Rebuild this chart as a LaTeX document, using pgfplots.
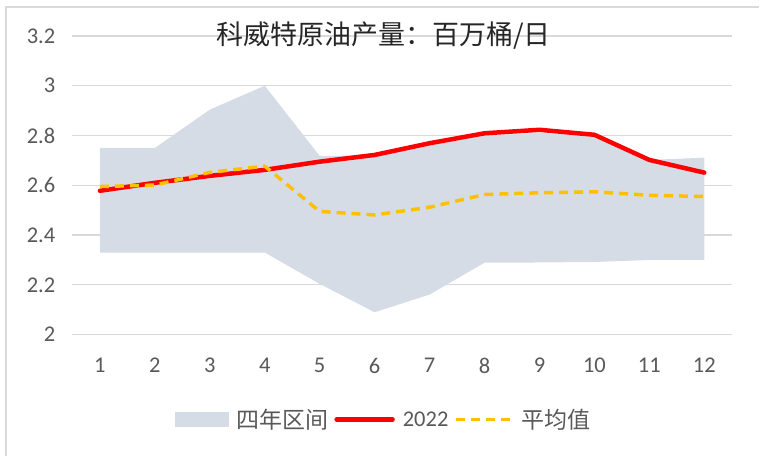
\documentclass[border=0pt]{standalone}
\usepackage{fontspec}
\setmainfont{Carlito}
\newfontfamily\cjk{Noto Sans CJK SC}
\usepackage{pgfplots}
\pgfplotsset{compat=1.18}
\usepgfplotslibrary{fillbetween}
\definecolor{band}{HTML}{D6DCE5}
\definecolor{gridc}{HTML}{D9D9D9}
\definecolor{ticklab}{HTML}{595959}
\definecolor{redl}{HTML}{FF0000}
\definecolor{yell}{HTML}{FFC000}
\pgfplotsset{
  lineleg/.style={legend image code/.code={\draw[##1] (0pt,0pt) -- (56pt,0pt);}},
  boxleg/.style={legend image code/.code={\fill[band] (0pt,-7.5pt) rectangle (54pt,7.5pt);}},
}
\begin{document}
\begin{tikzpicture}[x=1pt,y=1pt]
\path (0,0) rectangle (760,456);
\draw[color=gridc, line width=1.5pt] (6,0) -- (6,449) -- (760,449);
\begin{axis}[at={(72.5pt,121pt)}, anchor=south west, scale only axis,
  width=660pt, height=299pt,
  xmin=0.5, xmax=12.5, ymin=2, ymax=3.2,
  axis line style={draw=none},
  major tick length=0pt,
  xtick={1,...,12},
  ytick={2,2.2,2.4,2.6,2.8,3,3.2},
  yticklabels={2,2.2,2.4,2.6,2.8,3,3.2},
  ymajorgrids, grid style={gridc, line width=1.2pt},
  tick label style={font=\fontsize{22.5}{22.5}\selectfont, color=ticklab},
  /pgf/number format/assume math mode=true,
  yticklabel style={anchor=east, inner sep=0pt, xshift=-17pt},
  xticklabel style={anchor=center, inner sep=0pt, yshift=-31pt},
  clip=false,
  legend columns=3,
  legend style={at={(0.4705,-0.284)}, anchor=center, draw=none, fill=none,
    font=\cjk\fontsize{23}{23}\selectfont, text=ticklab,
    nodes={inner sep=0pt},
    column sep=8pt,
    /tikz/every even column/.append style={column sep=6pt}},
]
\addplot[draw=none, name path=upper, forget plot] coordinates {(1,2.75)(2,2.75)(3,2.904)(4,3.0)(5,2.718)(6,2.72)(7,2.76)(8,2.80)(9,2.81)(10,2.80)(11,2.702)(12,2.711)};
\addplot[draw=none, name path=lower, forget plot] coordinates {(1,2.33)(2,2.33)(3,2.33)(4,2.33)(5,2.204)(6,2.09)(7,2.161)(8,2.289)(9,2.29)(10,2.292)(11,2.30)(12,2.30)};
\addplot[fill=band, draw=none, boxleg] fill between[of=upper and lower];
\addlegendentry{四年区间}
\addplot[redl, line width=4.5pt, line join=round, line cap=round, lineleg] coordinates {(1,2.578)(2,2.61)(3,2.638)(4,2.662)(5,2.695)(6,2.722)(7,2.769)(8,2.809)(9,2.823)(10,2.803)(11,2.702)(12,2.651)};
\addlegendentry{\rmfamily\fontsize{22.5}{22.5}\selectfont 2022}
\addplot[yell, line width=3.5pt, dash pattern=on 9pt off 6pt, line join=round, lineleg] coordinates {(1,2.595)(2,2.601)(3,2.652)(4,2.677)(5,2.495)(6,2.481)(7,2.512)(8,2.563)(9,2.570)(10,2.574)(11,2.56)(12,2.555)};
\addlegendentry{平均值}
\end{axis}
\node[font=\cjk\fontsize{27}{27}\selectfont, text=black!85] at (384,420) {科威特原油产量：百万桶/日};
\end{tikzpicture}
\end{document}
